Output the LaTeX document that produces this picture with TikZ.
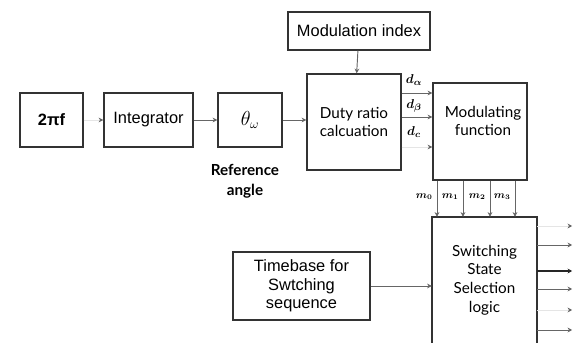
\documentclass[tikz,border=0pt]{standalone}
\usepackage{fontspec}
\setmainfont{Liberation Sans}
\newfontfamily\gillfont{Lato}
\usetikzlibrary{arrows.meta, calc}

\tikzset{
  blk/.style={draw=black!80, line width=1.2pt, inner sep=2pt, align=center,
              font=\fontsize{14}{16}\selectfont},
  blkline/.style={draw=black!80, line width=1.6pt},
  gill/.style={font=\gillfont\fontsize{13}{16}\selectfont},
  sig/.style={-{Stealth[length=4pt, width=4pt]}, draw=black!60, line width=0.8pt},
  faint/.style={-{Stealth[length=4pt, width=4pt, color=black!60]}, draw=black!10, line width=0.8pt},
  dlab/.style={font=\boldmath\fontsize{11}{12}\selectfont, inner sep=1pt},
  mlab/.style={font=\boldmath\fontsize{9}{10}\selectfont, inner sep=1pt}
}

\begin{document}
\begin{tikzpicture}[x=0.03cm, y=-0.03cm]
                  \useasboundingbox (0,0) rectangle (587,343);

                  \node[blk, font=\bfseries\fontsize{14}{16}\selectfont, minimum width=1.89cm, minimum height=1.62cm] (twopif) at (51.5,120) {2πf};
                  \node[blk, minimum width=2.67cm, minimum height=1.62cm] (integ) at (148.5,120) {Integrator};
                  \node[blk, font=\fontsize{16}{18}\selectfont, minimum width=1.92cm, minimum height=1.62cm] (theta) at (250,120) {$\theta_\omega$};
                  \node[font=\gillfont\bfseries\fontsize{13}{17}\selectfont, align=center] (refang) at (245,181) {Reference\\angle};
                  \node[blk, gill, minimum width=2.82cm, minimum height=2.88cm] (duty) at (354,122) {Duty ratio\\calcuation};
                  \node[blk, minimum width=4.26cm, minimum height=1.14cm] (modidx) at (359,31) {Modulation index};
                  \node[blk, minimum width=2.82cm, minimum height=2.91cm] (modfun) at (480,131.5) {};
                  \node[gill, align=center] (modfuntxt) at (483,121) {Modulating\\function};
                  \node[gill, align=center, minimum width=3.15cm, minimum height=3.78cm] (sel) at (484.5,280) {Switching\\State\\Selection\\logic};
                  \draw[blkline] (sel.south west) -- (sel.north west) -- (sel.north east) -- (sel.south east);
                  \node[blk, minimum width=4.11cm, minimum height=2.04cm] (tbase) at (301.5,286) {Timebase for\\Swtching\\sequence};

                  \draw[faint] (twopif) -- (integ);
                  \draw[sig] (integ) -- (theta);
                  \draw[sig] (theta) -- (duty.west |- theta);
                  \draw[sig] (modidx) -- (duty);

                  \foreach \y in {93, 117}
                  \draw[sig] (duty.east |- 0,\y) -- (modfun.west |- 0,\y);
                  \draw[faint] (duty.east |- 0,147) -- (modfun.west |- 0,147);
                  \node[dlab] (dal) at (414,80) {$d_\alpha$};
                  \node[dlab] (dbe) at (414,106) {$d_\beta$};
                  \node[dlab] (dce) at (414,132) {$d_c$};

                  \foreach \x/\k in {437/0, 463/1, 490/2, 515/3} {
                    \draw[sig] (modfun.south -| \x,0) -- (sel.north -| \x,0);
                    \node[mlab, anchor=east] (m\k) at (\x-3,197) {$m_\k$};
                  }

                  \draw[sig] (tbase) -- (sel.west |- tbase);
                  \foreach \y in {245, 289, 330}
                  \draw[sig] (sel.east |- 0,\y) -- ++(35,0);
                  \draw[sig, draw=black!85, line width=1.8pt] (sel.east |- 0,271) -- ++(35,0);
                  \foreach \y in {226, 310}
                  \draw[faint] (sel.east |- 0,\y) -- ++(35,0);
              \end{tikzpicture}
\end{document}
